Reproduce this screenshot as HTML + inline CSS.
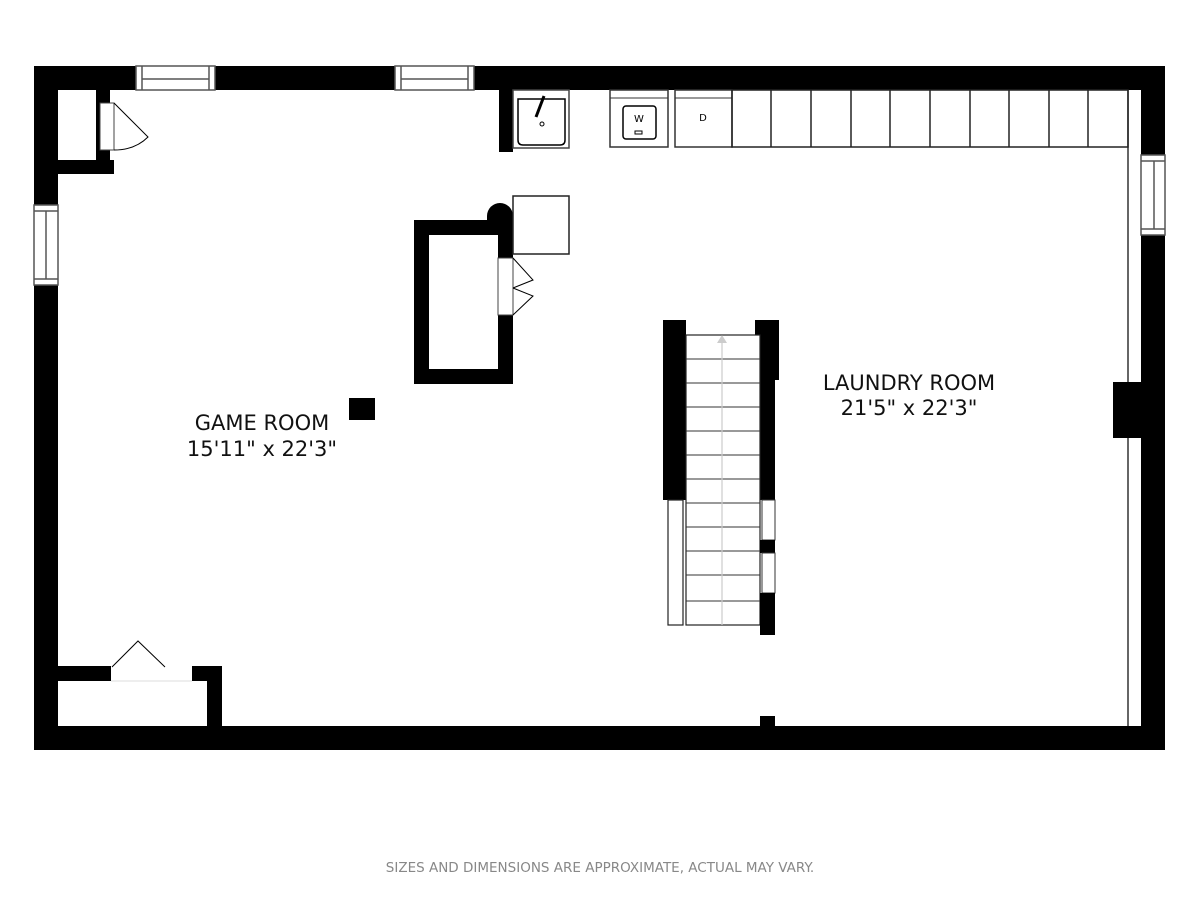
<!DOCTYPE html>
<html><head><meta charset="utf-8"><style>body{margin:0;background:#fff}svg{display:block}</style></head>
<body>
<svg width="1200" height="900" viewBox="0 0 1200 900" xmlns="http://www.w3.org/2000/svg">
<rect width="1200" height="900" fill="#fff"/>
<rect x="34" y="66" width="1131" height="24" fill="#000"/>
<rect x="34" y="726" width="1131" height="24" fill="#000"/>
<rect x="34" y="66" width="24" height="684" fill="#000"/>
<rect x="1141" y="66" width="24" height="684" fill="#000"/>
<g fill="#fff" stroke="#555" stroke-width="1.5">
<rect x="136" y="66" width="79" height="24"/><line x1="142" y1="66" x2="142" y2="90"/><line x1="209" y1="66" x2="209" y2="90"/><line x1="142" y1="79" x2="209" y2="79"/>
<rect x="395" y="66" width="79" height="24"/><line x1="401" y1="66" x2="401" y2="90"/><line x1="468" y1="66" x2="468" y2="90"/><line x1="401" y1="79" x2="468" y2="79"/>
<rect x="34" y="205" width="24" height="80"/><line x1="34" y1="211" x2="58" y2="211"/><line x1="34" y1="279" x2="58" y2="279"/><line x1="46" y1="211" x2="46" y2="279"/>
<rect x="1141" y="155" width="24" height="80"/><line x1="1141" y1="161" x2="1165" y2="161"/><line x1="1141" y1="229" x2="1165" y2="229"/><line x1="1154" y1="161" x2="1154" y2="229"/>
</g>
<line x1="1128" y1="90" x2="1128" y2="726" stroke="#333" stroke-width="1.5"/>
<rect x="1113" y="382" width="28" height="56" fill="#000"/>
<rect x="96" y="90" width="14" height="84" fill="#000"/>
<rect x="58" y="160" width="56" height="14" fill="#000"/>
<rect x="100" y="103" width="14" height="47" fill="#fff" stroke="#444"/>
<path d="M114 103 L148 137 Q135 150 114 150" fill="none" stroke="#000" stroke-width="1"/>
<rect x="499" y="90" width="14" height="62" fill="#000"/>
<rect x="513" y="90" width="56" height="58" fill="#fff" stroke="#444" stroke-width="1.5"/>
<path d="M518 99 H565 V140 Q565 145 560 145 H523 Q518 145 518 140 Z" fill="none" stroke="#000" stroke-width="1.5"/>
<line x1="544" y1="96" x2="536" y2="117" stroke="#000" stroke-width="3"/>
<circle cx="542" cy="124" r="2" fill="none" stroke="#000"/>
<rect x="610" y="90" width="58" height="57" fill="#fff" stroke="#333" stroke-width="1.5"/>
<line x1="610" y1="98" x2="668" y2="98" stroke="#333"/>
<rect x="623" y="106" width="33" height="33" rx="3" fill="none" stroke="#000" stroke-width="1.5"/>
<text x="639" y="122" font-family="DejaVu Sans,sans-serif" font-size="10" text-anchor="middle">W</text>
<rect x="635" y="131" width="7" height="3" fill="none" stroke="#000"/>
<rect x="675" y="90" width="57" height="57" fill="#fff" stroke="#333" stroke-width="1.5"/>
<line x1="675" y1="98" x2="732" y2="98" stroke="#333"/>
<text x="703" y="121" font-family="DejaVu Sans,sans-serif" font-size="10" text-anchor="middle">D</text>
<g fill="none" stroke="#222" stroke-width="1.5">
<rect x="732" y="90" width="396" height="57"/>
<line x1="771" y1="90" x2="771" y2="147"/><line x1="811" y1="90" x2="811" y2="147"/><line x1="851" y1="90" x2="851" y2="147"/><line x1="890" y1="90" x2="890" y2="147"/><line x1="930" y1="90" x2="930" y2="147"/><line x1="970" y1="90" x2="970" y2="147"/><line x1="1009" y1="90" x2="1009" y2="147"/><line x1="1049" y1="90" x2="1049" y2="147"/><line x1="1088" y1="90" x2="1088" y2="147"/>
</g>
<rect x="414" y="220" width="99" height="164" fill="#000"/>
<rect x="429" y="235" width="69" height="134" fill="#fff"/>
<rect x="498" y="258" width="15" height="57" fill="#fff" stroke="#444"/>
<path d="M513 258 L533 280 L513 288 M513 288 L533 296 L513 315" fill="none" stroke="#000" stroke-width="1"/>
<circle cx="500" cy="216" r="13" fill="#000"/>
<rect x="487" y="216" width="26" height="10" fill="#000"/>
<rect x="513" y="196" width="56" height="58" fill="#fff" stroke="#222" stroke-width="1.5"/>
<rect x="349" y="398" width="26" height="22" fill="#000"/>
<rect x="663" y="320" width="23" height="180" fill="#000"/>
<rect x="755" y="320" width="24" height="60" fill="#000"/>
<rect x="760" y="320" width="15" height="180" fill="#000"/>
<rect x="686" y="335" width="74" height="290" fill="#fff" stroke="#222" stroke-width="1.2"/>
<g stroke="#333" stroke-width="1">
<line x1="686" y1="359" x2="760" y2="359"/><line x1="686" y1="383" x2="760" y2="383"/><line x1="686" y1="407" x2="760" y2="407"/><line x1="686" y1="431" x2="760" y2="431"/><line x1="686" y1="455" x2="760" y2="455"/><line x1="686" y1="479" x2="760" y2="479"/><line x1="686" y1="503" x2="760" y2="503"/><line x1="686" y1="527" x2="760" y2="527"/><line x1="686" y1="551" x2="760" y2="551"/><line x1="686" y1="575" x2="760" y2="575"/><line x1="686" y1="601" x2="760" y2="601"/>
</g>
<line x1="722" y1="340" x2="722" y2="625" stroke="#ccc" stroke-width="1.2"/>
<polygon points="722,335 717,343 727,343" fill="#ccc"/>
<rect x="668" y="500" width="15" height="125" fill="#fff" stroke="#222" stroke-width="1.2"/>
<rect x="762" y="500" width="13" height="40" fill="#fff" stroke="#333"/>
<rect x="760" y="540" width="15" height="13" fill="#000"/>
<rect x="762" y="553" width="13" height="40" fill="#fff" stroke="#333"/>
<rect x="760" y="593" width="15" height="42" fill="#000"/>
<rect x="760" y="716" width="15" height="34" fill="#000"/>
<rect x="58" y="666" width="53" height="15" fill="#000"/>
<rect x="192" y="666" width="30" height="15" fill="#000"/>
<rect x="207" y="666" width="15" height="60" fill="#000"/>
<line x1="111" y1="681" x2="192" y2="681" stroke="#ddd"/>
<path d="M112 667 L138 641 L165 667" fill="none" stroke="#000" stroke-width="1"/>
<g font-family="DejaVu Sans,sans-serif" font-size="21" text-anchor="middle" fill="#111">
<text x="262" y="430">GAME ROOM</text>
<text x="262" y="456">15'11" x 22'3"</text>
<text x="909" y="390">LAUNDRY ROOM</text>
<text x="909" y="415">21'5" x 22'3"</text>
</g>
<text x="600" y="872" font-family="DejaVu Sans,sans-serif" font-size="13.5" text-anchor="middle" fill="#888">SIZES AND DIMENSIONS ARE APPROXIMATE, ACTUAL MAY VARY.</text>
</svg>
</body></html>
